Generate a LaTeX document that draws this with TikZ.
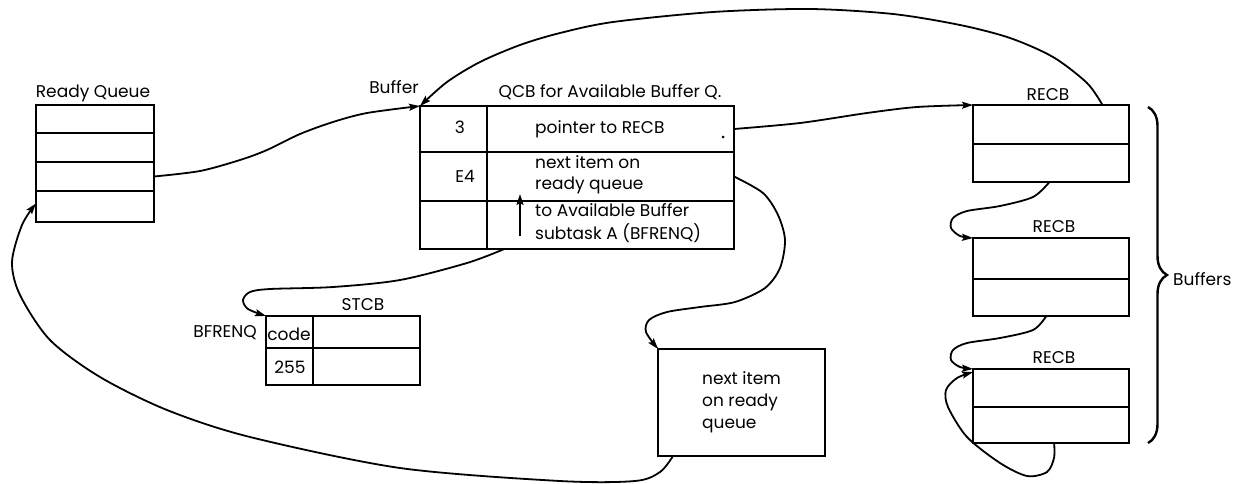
\documentclass[tikz,border=0pt]{standalone}
\usepackage{fontspec}
\setmainfont{Poppins}
\usetikzlibrary{arrows.meta,calc,decorations.pathreplacing}

\begin{document}
\begin{tikzpicture}[x=1pt,y=-1pt,
  cell/.style={draw,line width=2pt,inner sep=0pt,outer sep=0pt,anchor=north west},
  lbl/.style={inner sep=0pt,anchor=base},
  lblw/.style={inner sep=0pt,anchor=base west},
  tip/.tip={Stealth[length=11pt,width=7pt,inset=2pt]},
  link/.style={line width=1.8pt,-tip},
  font=\fontsize{17}{22}\selectfont]
\useasboundingbox (0,0) rectangle (1235,483);

% ready queue
\node[cell,minimum width=118pt,minimum height=28pt] (rq1) at (36,105) {};
\node[cell,minimum width=118pt,minimum height=29pt] (rq2) at (36,133) {};
\node[cell,minimum width=118pt,minimum height=29pt] (rq3) at (36,162) {};
\node[cell,minimum width=118pt,minimum height=31pt] (rq4) at (36,191) {};
\node[lbl] (rqlbl) at (93,97) {Ready Queue};

% queue control block
\node[cell,minimum width=67pt,minimum height=46pt] (qa1) at (420,106) {};
\node[cell,minimum width=247pt,minimum height=46pt] (qb1) at (487,106) {};
\node[cell,minimum width=67pt,minimum height=49pt] (qa2) at (420,152) {};
\node[cell,minimum width=247pt,minimum height=49pt] (qb2) at (487,152) {};
\node[cell,minimum width=67pt,minimum height=48pt] (qa3) at (420,201) {};
\node[cell,minimum width=247pt,minimum height=48pt] (qb3) at (487,201) {};
\node[lbl] (buflbl) at (394,93) {Buffer};
\node[lbl] (qcblbl) at (610,97) {QCB for Available Buffer Q.};
\node[lbl] (qt1) at (460,133) {3};
\node[lblw] (qt2) at (535,133) {pointer to RECB};
\node[lbl] (qt3) at (465,182) {E4};
\node[lblw] (qt4) at (535,168) {next item on};
\node[lblw] (qt5) at (535,189) {ready queue};
\node[lblw] (qt6) at (535,216) {to Available Buffer};
\node[lblw] (qt7) at (535,239) {subtask A (BFRENQ)};
\node[circle,fill,inner sep=0pt,minimum size=3pt] (dot) at (723,137) {};
\coordinate (upfoot) at (520,236);
\coordinate (uphead) at (520,194);
\draw[line width=1.8pt,-tip] (upfoot) -- (uphead);

% subtask control block
\node[cell,minimum width=47pt,minimum height=32pt] (sa1) at (266,316) {};
\node[cell,minimum width=107pt,minimum height=32pt] (sb1) at (313,316) {};
\node[cell,minimum width=47pt,minimum height=37pt] (sa2) at (266,348) {};
\node[cell,minimum width=107pt,minimum height=37pt] (sb2) at (313,348) {};
\node[lbl] (stlbl) at (363,310) {STCB};
\node[lbl,anchor=base east] (bfr) at (257,337) {BFRENQ};
\node[lbl] (code) at (289,340) {code};
\node[lbl] (n255) at (290,373) {255};

% next item box
\node[cell,minimum width=167pt,minimum height=107pt,align=left] (nx) at (658,349)
  {next item\\on ready\\queue};

% buffer RECBs
\node[cell,minimum width=156pt,minimum height=39pt] (r1a) at (973,105) {};
\node[cell,minimum width=156pt,minimum height=38pt] (r1b) at (973,144) {};
\node[cell,minimum width=156pt,minimum height=41pt] (r2a) at (973,238) {};
\node[cell,minimum width=156pt,minimum height=37pt] (r2b) at (973,279) {};
\node[cell,minimum width=156pt,minimum height=38pt] (r3a) at (973,369) {};
\node[cell,minimum width=156pt,minimum height=36pt] (r3b) at (973,407) {};
\node[lbl] (r1lbl) at (1048,100) {RECB};
\node[lbl] (r2lbl) at (1054,232) {RECB};
\node[lbl] (r3lbl) at (1054,363) {RECB};

% brace
\coordinate (brtop) at (1148,107);
\coordinate (brbot) at (1148,443);
\draw[line width=2.4pt,decorate,decoration={brace,amplitude=19pt}] (brtop) -- (brbot);
\node[lblw] (buffers) at (1173,285) {Buffers};

% connection points
\coordinate (c5s) at ($(qb3.south west)!0.07!(qb3.south east)$);
\coordinate (c6s) at ($(nx.south west)!0.09!(nx.south east)$);
\coordinate (c6e) at ($(rq4.north west)!0.4!(rq4.south west)$);
\coordinate (c2s) at ($(r1a.north west)!0.83!(r1a.north east)$);
\coordinate (c7s) at ($(r1b.south west)!0.49!(r1b.south east)$);
\coordinate (c8s) at ($(r2b.south west)!0.47!(r2b.south east)$);
\coordinate (c9s) at ($(r3b.south west)!0.52!(r3b.south east)$);
\coordinate (c9e) at ($(r3a.north west)!0.08!(r3a.south west)$);

% connectors
\draw[link] plot[smooth] coordinates {(rq3.east) (200,171) (240,160) (267,150) (300,134) (333,122) (367,113) (qa1.north west)};
\draw[link] plot[smooth] coordinates {(c2s) (1087,83) (1053,57) (1010,38) (960,25) (893,14) (810,9) (713,12) (613,22) (560,33) (520,45) (480,62) (447,82) (qa1.north west)};
\draw[link] plot[smooth] coordinates {(qb1.east) (800,123) (867,113) (917,107) (r1a.north west)};
\draw[link] plot[smooth] coordinates {(qb2.east) (763,193) (778,215) (785,240) (780,268) (765,288) (735,302) (700,307) (667,312) (649,320) (646,332) (nx.north west)};
\draw[link] plot[smooth] coordinates {(c5s) (467,263) (400,280) (333,287) (270,289) (250,292) (243,300) (248,309) (sa1.north west)};
\draw[link] plot[smooth] coordinates {(c6s) (660,472) (635,481) (560,481) (400,468) (250,437) (167,410) (100,377) (50,340) (20,295) (12,262) (22,225) (c6e)};
\draw[link] plot[smooth] coordinates {(c7s) (1033,197) (1000,206) (967,211) (953,218) (951,228) (960,236) (r2a.north west)};
\draw[link] plot[smooth] coordinates {(c8s) (1033,330) (1000,338) (967,343) (953,350) (951,360) (960,367) (r3a.north west)};
\draw[link] plot[smooth] coordinates {(c9s) (1054,458) (1047,472) (1027,476) (1000,463) (967,437) (948,407) (946,390) (957,378) (c9e)};
\end{tikzpicture}
\end{document}
